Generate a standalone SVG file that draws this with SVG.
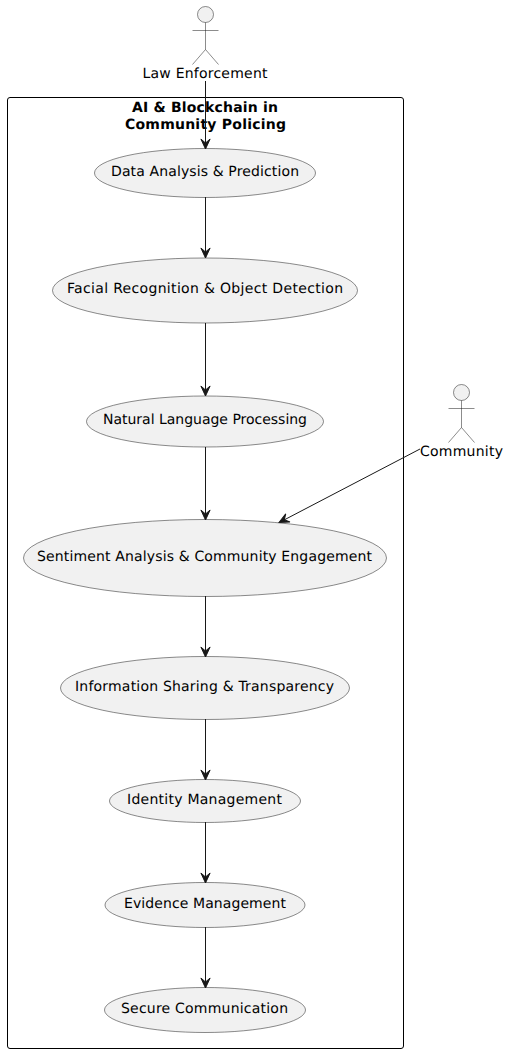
<svg xmlns="http://www.w3.org/2000/svg" width="508" height="1053" viewBox="0 0 508 1053">
<style>
text{font-family:"DejaVu Sans",sans-serif;font-size:14px;fill:#000;text-anchor:middle;text-rendering:geometricPrecision}
.t{font-weight:bold}
.u{fill:#F1F1F1;stroke:#181818;stroke-width:.5}
.a{fill:none;stroke:#181818;stroke-width:.5}
.c{fill:none;stroke:#181818;stroke-width:1}
.h{fill:#181818;stroke:#181818;stroke-width:1}
</style>
<defs>
<path id="ah" class="h" d="M0,0 L-4.600,-10 L0,-6 L4.600,-10 Z"/>
</defs>
<rect width="508" height="1053" fill="#fff"/>
<g id="boundary">
<rect x="7.500" y="97.500" width="396" height="951" rx="2.500" fill="none" stroke="#000" stroke-width="1"/>
<text class="t" x="205" y="112" textLength="146">AI &amp; Blockchain in</text>
<text class="t" x="205.500" y="129" textLength="161">Community Policing</text>
</g>
<g id="law-enforcement">
<circle class="u" cx="205.500" cy="14.500" r="8"/>
<path class="a" d="M205.500,22.500V49.500M192.500,30.500H218.500M205.500,49.500L192.500,64.500M205.500,49.500L218.500,64.500"/>
<text x="205" y="78" textLength="125">Law Enforcement</text>
</g>
<g id="community">
<circle class="u" cx="461.500" cy="392.500" r="8"/>
<path class="a" d="M461.500,400.500V427.500M448.500,408.500H474.500M461.500,427.500L448.500,442.500M461.500,427.500L474.500,442.500"/>
<text x="461.500" y="456" textLength="83">Community</text>
</g>
<g id="data-analysis"><ellipse class="u" cx="205" cy="173" rx="110.500" ry="24.500"/><text x="205" y="176" textLength="188">Data Analysis &amp; Prediction</text></g>
<g id="facial-recognition"><ellipse class="u" cx="205" cy="290.500" rx="152.500" ry="32.500"/><text x="205" y="293" textLength="276">Facial Recognition &amp; Object Detection</text></g>
<g id="nlp"><ellipse class="u" cx="205" cy="421.500" rx="118.500" ry="25.500"/><text x="205" y="424" textLength="204">Natural Language Processing</text></g>
<g id="sentiment"><ellipse class="u" cx="205" cy="558" rx="181.500" ry="38.500"/><text x="204.500" y="561" textLength="335">Sentiment Analysis &amp; Community Engagement</text></g>
<g id="information-sharing"><ellipse class="u" cx="205" cy="688" rx="144.500" ry="31.500"/><text x="204.500" y="691" textLength="259">Information Sharing &amp; Transparency</text></g>
<g id="identity"><ellipse class="u" cx="205" cy="801" rx="95.500" ry="21.500"/><text x="204.500" y="804" textLength="155">Identity Management</text></g>
<g id="evidence"><ellipse class="u" cx="205" cy="905" rx="100" ry="22.500"/><text x="205" y="908" textLength="162">Evidence Management</text></g>
<g id="secure-communication"><ellipse class="u" cx="205" cy="1010" rx="100.500" ry="22.500"/><text x="204.500" y="1013" textLength="167">Secure Communication</text></g>
<g id="connectors">
<path class="c" d="M205.500,81V143"/><use href="#ah" x="205.500" y="149"/>
<path class="c" d="M205.500,197V252"/><use href="#ah" x="205.500" y="258"/>
<path class="c" d="M205.500,323V390"/><use href="#ah" x="205.500" y="396"/>
<path class="c" d="M205.500,447V514"/><use href="#ah" x="205.500" y="520"/>
<path class="c" d="M205.500,596V651"/><use href="#ah" x="205.500" y="657"/>
<path class="c" d="M205.500,719V774"/><use href="#ah" x="205.500" y="780"/>
<path class="c" d="M205.500,822V877"/><use href="#ah" x="205.500" y="883"/>
<path class="c" d="M205.500,927V982"/><use href="#ah" x="205.500" y="988"/>
<path class="c" d="M420,449L284,520"/><use href="#ah" transform="translate(279,522.500) rotate(62.500)"/>
</g>
</svg>
